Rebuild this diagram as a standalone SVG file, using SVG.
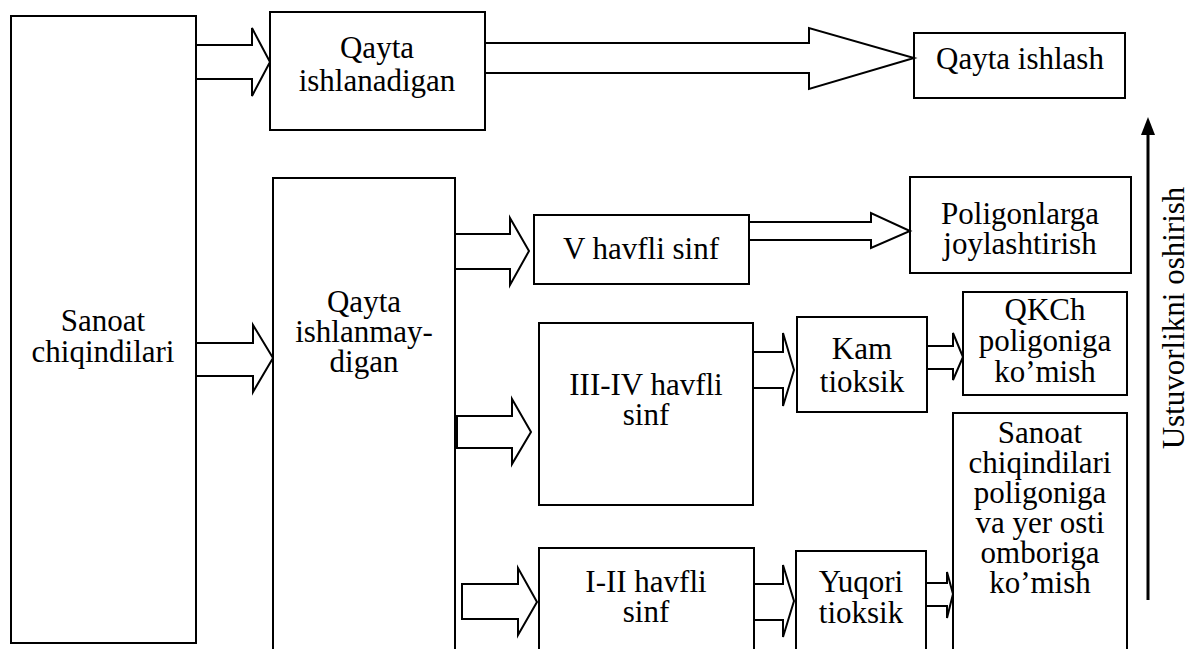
<svg xmlns="http://www.w3.org/2000/svg" width="1191" height="649" viewBox="0 0 1191 649">
<style>
.box{fill:#fff;stroke:#000;stroke-width:2}
.open{fill:none;stroke:#000;stroke-width:2}
.ba{fill:#fff;stroke:#000;stroke-width:2;stroke-linejoin:miter}
.t{font-family:'Liberation Serif','Times New Roman',serif;font-size:31px;fill:#000;text-anchor:middle}
</style>
<rect width="1191" height="649" fill="#fff"/>
<g class="t">
<g id="n-sanoat"><rect class="box" x="11" y="16" width="185" height="627"/><text x="103" y="331">Sanoat</text><text x="103" y="362">chiqindilari</text></g>
<g id="n-qayta-ishlanadigan"><rect class="box" x="270" y="12" width="215" height="118"/><text x="377" y="58">Qayta</text><text x="377" y="91">ishlanadigan</text></g>
<g id="n-qayta-ishlash"><rect class="box" x="914" y="33" width="211" height="65"/><text x="1020" y="69">Qayta ishlash</text></g>
<g id="n-qayta-ishlanmaydigan"><path class="open" d="M273,649 V178 H455 V649"/><text x="364" y="312">Qayta</text><text x="364" y="342">ishlanmay-</text><text x="364" y="372">digan</text></g>
<g id="n-v"><rect class="box" x="534" y="215" width="215" height="69"/><text x="641" y="259">V havfli sinf</text></g>
<g id="n-poligon"><rect class="box" x="910" y="177" width="221" height="96"/><text x="1020" y="224">Poligonlarga</text><text x="1020" y="254">joylashtirish</text></g>
<g id="n-qkch"><rect class="box" x="963" y="292" width="164" height="103"/><text x="1045" y="320">QKCh</text><text x="1045" y="351">poligoniga</text><text x="1045" y="382">ko’mish</text></g>
<g id="n-iiiiv"><rect class="box" x="539" y="323" width="214" height="182"/><text x="646" y="395">III-IV havfli</text><text x="646" y="425">sinf</text></g>
<g id="n-kam"><rect class="box" x="797" y="317" width="130" height="95"/><text x="862" y="359">Kam</text><text x="862" y="392">tioksik</text></g>
<g id="n-iii"><path class="open" d="M539,649 V548 H754 V649"/><text x="646" y="592">I-II havfli</text><text x="646" y="622">sinf</text></g>
<g id="n-yuqori"><path class="open" d="M796,649 V551 H926 V649"/><text x="861" y="592">Yuqori</text><text x="861" y="623">tioksik</text></g>
<g id="n-sanoat-poligon"><path class="open" d="M953,649 V413 H1127 V649"/><text x="1040" y="443">Sanoat</text><text x="1040" y="473">chiqindilari</text><text x="1040" y="503">poligoniga</text><text x="1040" y="533">va yer osti</text><text x="1040" y="563">omboriga</text><text x="1040" y="593">ko’mish</text></g>
<text x="1184" y="318" transform="rotate(-90 1184 318)">Ustuvorlikni oshirish</text>
</g>
<g id="connectors">
<polygon class="ba" points="196,45 252,45 252,28 270,62 252,96 252,79 196,79"/>
<polygon class="ba" points="485,43 809,43 809,28 914,58 809,89 809,73 485,73"/>
<polygon class="ba" points="196,343 253,343 253,325 273,358 253,392 253,376 196,376"/>
<polygon class="ba" points="455,234 510,234 510,218 529,251 510,285 510,269 455,269"/>
<polygon class="ba" points="749,222 871,222 871,213 910,231 871,248 871,240 749,240"/>
<polygon class="ba" points="457,416 512,416 512,399 531,432 512,464 512,448 457,448"/>
<polygon class="ba" points="462,584 518,584 518,568 537,602 518,635 518,619 462,619"/>
<polygon class="ba" points="753,352 783,352 783,333 794,370 783,406 783,388 753,388"/>
<polygon class="ba" points="927,346 953,346 953,333 963,357 953,380 953,369 927,369"/>
<polygon class="ba" points="754,584 783,584 783,565 794,601 783,637 783,620 754,620"/>
<polygon class="ba" points="926,583 947,583 947,572 953,594 947,618 947,606 926,606"/>
<line x1="1148" y1="600" x2="1148" y2="134" stroke="#000" stroke-width="3"/>
<polygon points="1148,117 1141,135 1155,135" fill="#000"/>
</g>
</svg>
